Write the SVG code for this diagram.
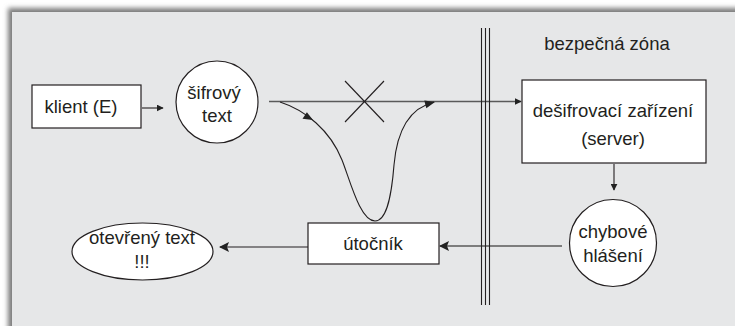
<svg xmlns="http://www.w3.org/2000/svg" width="735" height="326" viewBox="0 0 735 326">
<defs>
<filter id="sh" x="-5%" y="-5%" width="110%" height="110%">
<feGaussianBlur stdDeviation="2.5"/>
</filter>
<marker id="ah" viewBox="0 0 10 10" refX="9" refY="5" markerWidth="7" markerHeight="7" markerUnits="userSpaceOnUse" orient="auto">
<path d="M0,0 L10,5 L0,10 Z" fill="#222"/>
</marker>
<marker id="ahb" viewBox="0 0 10 10" refX="9" refY="5" markerWidth="10" markerHeight="10" markerUnits="userSpaceOnUse" orient="auto">
<path d="M0,0 L10,5 L0,10 L2,5 Z" fill="#222"/>
</marker>
</defs>
<style>
text{font-family:"Liberation Sans",Arial,sans-serif;font-size:18.5px;fill:#231f20;text-anchor:middle}
.box{fill:#fff;stroke:#231f20;stroke-width:1.2}
.ln{fill:none;stroke:#231f20;stroke-width:1.1}
.gl{fill:none;stroke:#5a5a5a;stroke-width:1.6}
</style>
<rect width="735" height="326" fill="#fff"/>
<rect x="8" y="8" width="740" height="330" fill="#7a7a7a" filter="url(#sh)"/>
<rect x="12" y="12" width="730" height="320" fill="#e6e7e8"/>

<g id="connectors">
<line class="ln" x1="142" y1="108" x2="163" y2="108" marker-end="url(#ah)"/>
<line class="gl" x1="269" y1="101.5" x2="521" y2="101.5" marker-end="url(#ah)"/>
<line class="ln" x1="345" y1="81" x2="384" y2="122"/>
<line class="ln" x1="345" y1="122" x2="384" y2="81"/>
<path class="ln" d="M280,102 C305,110 330,130 342,160 C350,180 360,221 375,221 C388,221 392,190 394,165 C397,130 410,108 434,102"/>
<path d="M313,120 L302.5,118.8 L306.9,112.2 Z" fill="#222"/>
<path d="M435,102 L424.3,100.5 L426.3,108.3 Z" fill="#222"/>
<line class="ln" x1="614" y1="164" x2="614" y2="190" marker-end="url(#ah)"/>
<line class="gl" x1="562" y1="246" x2="440" y2="246" marker-end="url(#ahb)"/>
<line class="ln" x1="308" y1="247" x2="220" y2="247" marker-end="url(#ahb)"/>
</g>

<g id="wall">
<line class="ln" x1="481.5" y1="28" x2="481.5" y2="305"/>
<line class="ln" x1="485.5" y1="28" x2="485.5" y2="305"/>
<line class="ln" x1="489.5" y1="28" x2="489.5" y2="305"/>
</g>

<g id="zone-label"><text x="607" y="50">bezpečná zóna</text></g>

<g id="klient">
<rect class="box" x="32" y="85" width="109" height="43"/>
<text x="81" y="113">klient (E)</text>
</g>

<g id="sifrovy">
<circle class="box" cx="217" cy="102" r="41"/>
<text x="214" y="99">šifrový</text>
<text x="217" y="122">text</text>
</g>

<g id="server">
<rect class="box" x="522" y="80" width="184" height="83"/>
<text x="613" y="117">dešifrovací zařízení</text>
<text x="613" y="145">(server)</text>
</g>

<g id="chybove">
<circle class="box" cx="613" cy="243" r="43.5"/>
<text x="613" y="238">chybové</text>
<text x="613" y="262">hlášení</text>
</g>

<g id="utocnik">
<rect class="box" x="308" y="223" width="131" height="41"/>
<text x="373" y="250">útočník</text>
</g>

<g id="otevreny">
<ellipse class="box" cx="142.5" cy="251.5" rx="70.5" ry="28.5"/>
<text x="142" y="244">otevřený text</text>
<text x="142" y="268">!!!</text>
</g>
</svg>
